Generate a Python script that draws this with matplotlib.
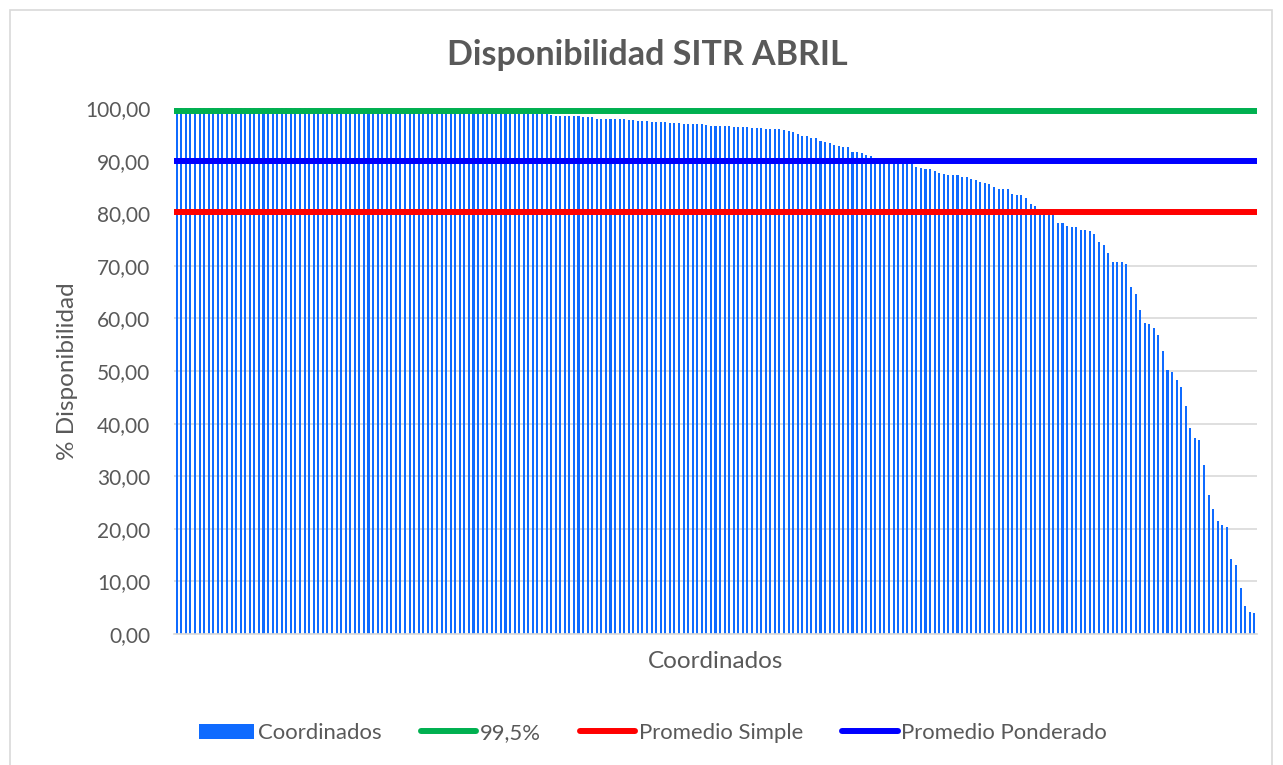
import matplotlib
matplotlib.use("Agg")
import matplotlib.pyplot as plt
import numpy as np
from matplotlib.lines import Line2D
from matplotlib.patches import Patch, Rectangle

# availability per coordinated unit, sorted descending
disponibilidad = [
    100.0, 100.0, 100.0, 100.0, 100.0, 100.0, 100.0, 100.0, 100.0, 100.0,
    100.0, 100.0, 100.0, 100.0, 100.0, 100.0, 100.0, 100.0, 100.0, 100.0,
    100.0, 100.0, 100.0, 100.0, 100.0, 100.0, 100.0, 100.0, 100.0, 100.0,
    99.9, 99.9, 99.9, 99.9, 99.9, 99.8, 99.8, 99.8, 99.8, 99.8,
    99.7, 99.7, 99.7, 99.7, 99.6, 99.6, 99.6, 99.6, 99.5, 99.5,
    99.5, 99.5, 99.4, 99.4, 99.4, 99.4, 99.3, 99.3, 99.3, 99.3,
    99.2, 99.2, 99.2, 99.2, 99.1, 99.1, 99.1, 99.1, 99.0, 99.0,
    99.0, 99.0, 99.0, 98.9, 98.9, 98.9, 98.9, 98.9, 98.8, 98.8,
    98.8, 98.8, 98.6, 98.5, 98.5,
    98.48, 98.48, 98.48, 98.48, 98.3, 98.3, 98.2, 97.97, 97.9, 97.9,
    97.9, 97.85, 97.85, 97.85, 97.7, 97.66, 97.6, 97.6, 97.47, 97.4,
    97.3, 97.3, 97.3, 97.15, 97.15, 97.1, 97.0, 96.96, 96.96, 96.96,
    96.96, 96.77, 96.64, 96.58, 96.58, 96.58, 96.58, 96.45, 96.32, 96.32,
    96.32, 96.2, 96.2, 96.14, 96.0, 96.0, 96.0, 95.95, 95.75, 95.6,
    95.38, 95.0, 94.68, 94.68, 94.36, 94.3, 93.7, 93.6, 93.35, 92.9,
    92.78, 92.65, 92.53, 91.7, 91.57, 91.38, 91.0, 90.87, 90.5, 90.3,
    90.2, 90.1, 90.0, 89.9, 89.8, 89.7, 89.5, 88.85, 88.53, 88.47,
    88.34, 87.96, 87.64, 87.51, 87.26, 87.26, 87.2, 86.88, 86.82, 86.56,
    86.3, 85.99, 85.74, 85.55, 85.04, 84.6, 84.6, 84.6, 83.65, 83.52,
    83.46, 82.89, 81.75, 81.37, 80.7, 80.5, 80.3, 80.0, 78.14, 78.07,
    77.6, 77.45, 77.3, 76.9, 76.9, 76.6, 76.1, 74.6, 73.9, 72.4,
    70.75, 70.75, 70.75, 70.3, 65.9, 64.6, 61.6, 59.2, 59.0, 58.2,
    56.9, 53.8, 50.1, 49.9, 48.2, 46.9, 43.3, 39.2, 37.2, 36.8,
    32.1, 26.4, 23.7, 21.4, 20.7, 20.3, 14.2, 13.2, 8.7, 5.3,
    4.1, 3.9,
]
meta_995 = 99.5
promedio_simple = 80.2
promedio_ponderado = 89.9

gris = "#595959"
plt.rcParams["font.family"] = ["Lato", "DejaVu Sans"]

fig = plt.figure(figsize=(12.83, 7.65), dpi=100)
ax = fig.add_axes([174 / 1283, 131 / 765, 1083 / 1283, 526 / 765])

x = np.arange(len(disponibilidad))
ax.bar(x, disponibilidad, width=0.45, color="#0F6BFF", zorder=2)
ax.axhline(meta_995, color="#00B050", lw=4.3, zorder=3)
ax.axhline(promedio_simple, color="#FF0000", lw=4.3, zorder=3)
ax.axhline(promedio_ponderado, color="#0000FF", lw=4.3, zorder=3)

ax.set_xlim(-0.6, len(disponibilidad) - 0.4)
ax.set_ylim(0, 100)
ax.set_yticks(np.arange(0, 101, 10))
ax.set_yticklabels([f"{v:.2f}".replace(".", ",") for v in range(0, 101, 10)])
ax.set_xticks([])
ax.grid(axis="y", color="#D9D9D9", lw=1.2, zorder=0)
for s in ["top", "right", "left"]:
    ax.spines[s].set_visible(False)
ax.spines["bottom"].set_color("#D9D9D9")
ax.spines["bottom"].set_linewidth(1.2)
ax.tick_params(axis="y", length=0, pad=17, labelsize=15, labelcolor=gris)

ax.set_ylabel("% Disponibilidad", fontsize=17.5, color=gris, labelpad=5)
ax.set_xlabel("Coordinados", fontsize=17.5, color=gris, labelpad=12)
fig.text(647 / 1283, 1 - 55 / 765, "Disponibilidad SITR ABRIL", ha="center",
         va="center", fontsize=24.5, fontweight="bold", color=gris)

handles = [
    Patch(facecolor="#0F6BFF", edgecolor="none"),
    Line2D([], [], color="#00B050", lw=4.3, solid_capstyle="round"),
    Line2D([], [], color="#FF0000", lw=4.3, solid_capstyle="round"),
    Line2D([], [], color="#0000FF", lw=4.3, solid_capstyle="round"),
]
labels = ["Coordinados", "99,5%", "Promedio Simple", "Promedio Ponderado"]
leg = fig.legend(handles, labels, loc="center", bbox_to_anchor=(653 / 1283, 1 - 733 / 765),
                 ncol=4, frameon=False, fontsize=15.9, handlelength=2.5,
                 handletextpad=0.18, columnspacing=1.77)
for t in leg.get_texts():
    t.set_color(gris)

fig.patches.append(Rectangle((10 / 1283, -0.01), 1262 / 1283, 1 - 10 / 765 + 0.01,
                             transform=fig.transFigure, fill=False,
                             edgecolor="#D9D9D9", lw=1.2))

fig.savefig("out.png", dpi=100)
